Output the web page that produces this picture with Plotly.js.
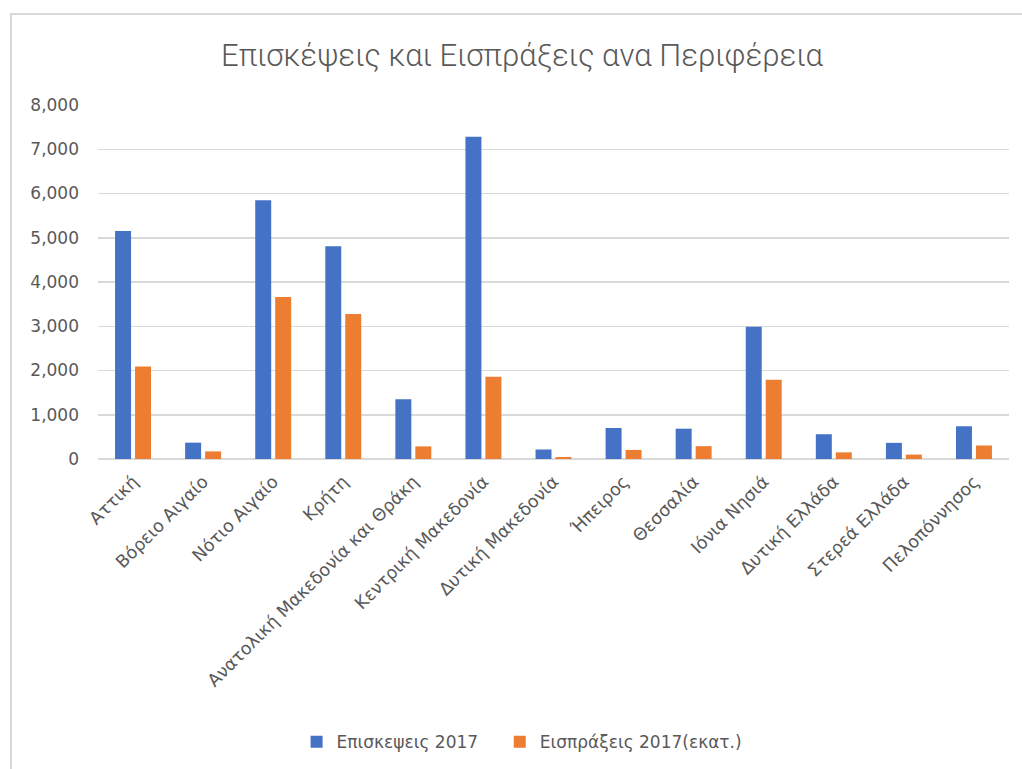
<!DOCTYPE html>
<html>
<head>
<meta charset="utf-8">
<script src="https://cdn.plot.ly/plotly-3.0.1.min.js"></script>
<style>
html,body{margin:0;padding:0;background:#fff;overflow:hidden;width:1022px;height:769px;}
#frame{position:absolute;left:10px;top:13px;width:1030px;height:770px;border-left:2px solid #d9d9d9;border-top:2px solid #d9d9d9;}
#chart{position:absolute;left:0;top:0;width:1010px;height:754px;}
</style>
</head>
<body>
<div id="frame"><div id="chart"></div></div>
<script>
const categories = ["Αττική","Βόρειο Αιγαίο","Νότιο Αιγαίο","Κρήτη","Ανατολική Μακεδονία και Θράκη","Κεντρική Μακεδονία","Δυτική Μακεδονία","Ήπειρος","Θεσσαλία","Ιόνια Νησιά","Δυτική Ελλάδα","Στερεά Ελλάδα","Πελοπόννησος"];
const visits2017 = [5150, 370, 5845, 4810, 1350, 7285, 215, 700, 685, 2990, 560, 365, 740];
const receipts2017 = [2090, 172, 3660, 3275, 285, 1860, 45, 205, 290, 1790, 150, 100, 305];
const seriesNames = ["Επισκεψεις 2017", "Εισπράξεις 2017(εκατ.)"];
const yTicks = [0,1000,2000,3000,4000,5000,6000,7000,8000];

const grey = "#595959";
const traces = [
  {type:"bar", name:seriesNames[0], x:categories, y:visits2017, marker:{color:"#4472C4"}, legend:"legend"},
  {type:"bar", name:seriesNames[1], x:categories, y:receipts2017, marker:{color:"#ED7D31"}, legend:"legend2"}
];
const legendFont = {family:"DejaVu Sans", size:17, color:grey};
const layout = {
  width:1010, height:754,
  margin:{l:86, r:13, t:90, b:310, autoexpand:false},
  paper_bgcolor:"#fff", plot_bgcolor:"#fff",
  barmode:"group", bargap:0.43, bargroupgap:0.2,
  title:{text:"Επισκέψεις και Εισπράξεις ανα Περιφέρεια", x:0.505, xanchor:"center", y:0.947, yanchor:"middle",
         font:{family:"Roboto, Liberation Sans, sans-serif", size:31, weight:300, color:grey}},
  xaxis:{type:"category", tickangle:-45, tickfont:{family:"DejaVu Sans", size:17.5, color:grey},
         showline:false, ticks:"", showgrid:false, automargin:false, ticklabelstandoff:8},
  yaxis:{range:[0,8000], tickvals:yTicks, tickformat:",d", tickfont:{family:"DejaVu Sans", size:17, color:grey},
         gridcolor:"#d9d9d9", gridwidth:1.5, zeroline:true, zerolinecolor:"#d9d9d9", zerolinewidth:1.5,
         showline:false, ticks:"", ticklabelstandoff:18, automargin:false},
  showlegend:true,
  legend:{orientation:"h", x:0.218, xanchor:"left", y:-0.80, yanchor:"middle", font:legendFont, itemwidth:30},
  legend2:{orientation:"h", x:0.441, xanchor:"left", y:-0.80, yanchor:"middle", font:legendFont, itemwidth:30}
};
Plotly.newPlot("chart", traces, layout, {staticPlot:true, displayModeBar:false});
</script>
</body>
</html>
